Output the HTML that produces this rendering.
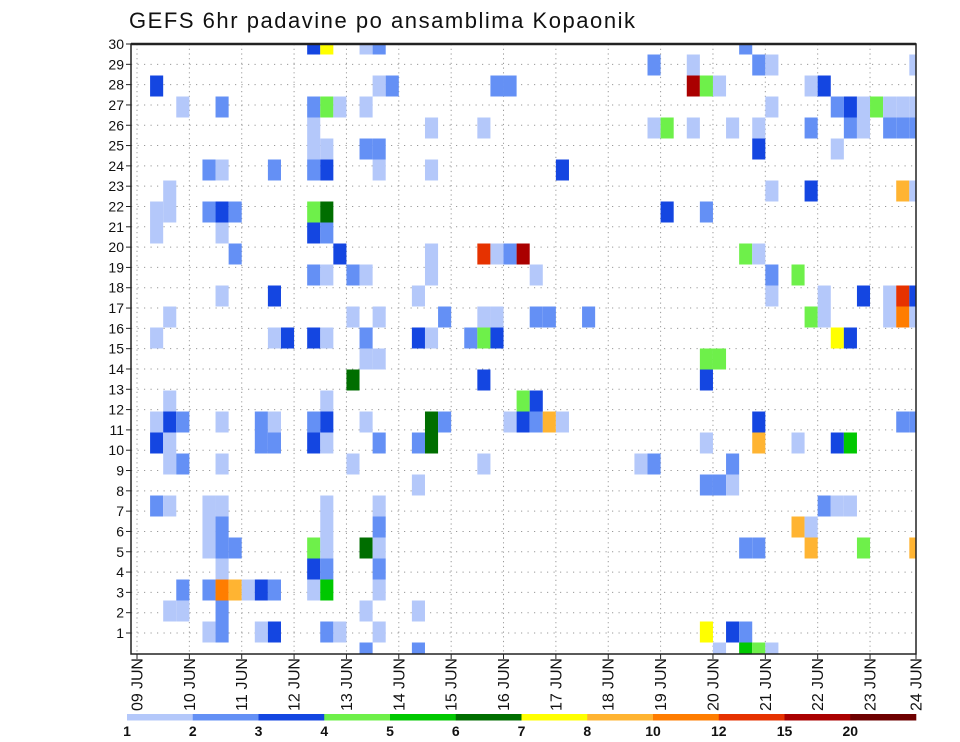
<!DOCTYPE html>
<html><head><meta charset="utf-8"><title>GEFS 6hr padavine</title>
<style>
html,body{margin:0;padding:0;background:#fff;}
svg{display:block;font-family:"Liberation Sans",sans-serif;}
</style></head>
<body>
<svg id="chart" width="960" height="742" viewBox="0 0 960 742">
  <rect x="0" y="0" width="960" height="742" fill="#fff"/>
  <text x="129" y="28" font-size="22" textLength="506" lengthAdjust="spacing" fill="#111">GEFS 6hr padavine po ansamblima Kopaonik</text>
  <g id="grid"></g>
  <g id="cells"></g>
  <g id="axes"></g>
  <g id="legend"></g>
</svg>
<script>
// ---- data ----
const members = [30,29,28,27,26,25,24,23,22,21,20,19,18,17,16,15,14,13,12,11,10,9,8,7,6,5,4,3,2,1];
const cellSteps = [
 [13,14,17,18,46],
 [39,42,47,48,59],
 [1,18,19,27,28,42,43,44,51,52],
 [3,6,13,14,15,17,48,53,54,55,56,57,58,59],
 [13,22,26,39,40,42,45,47,51,54,55,57,58,59],
 [13,14,17,18,47,53],
 [5,6,10,13,14,18,22,32],
 [2,48,51,58,59],
 [1,2,5,6,7,13,14,40,43],
 [1,6,13,14],
 [7,15,22,26,27,28,29,46,47],
 [13,14,16,17,22,30,48,50],
 [6,10,21,48,52,55,57,58,59],
 [2,16,18,23,26,27,30,31,34,51,52,57,58,59],
 [1,10,11,13,14,17,21,22,25,26,27,53,54],
 [17,18,43,44],
 [16,26,43],
 [2,14,29,30],
 [1,2,3,6,9,10,13,14,17,22,23,28,29,30,31,32,47,58,59],
 [1,2,9,10,13,14,18,21,22,43,47,50,53,54],
 [2,3,6,16,26,38,39,45],
 [21,43,44,45],
 [1,2,5,6,14,18,52,53,54],
 [5,6,14,18,50,51],
 [5,6,7,13,14,17,18,46,47,51,55,59],
 [6,13,14,18],
 [3,5,6,7,8,9,10,13,14,18],
 [2,3,6,17,21],
 [5,6,9,10,14,15,18,43,45,46],
 [17,21,44,46,47,48]
];
const cellValues = [
 [3.5,7.5,1.5,2.5,2.5],
 [2.5,1.5,2.5,1.5,1.5],
 [3.5,1.5,2.5,2.5,2.5,17,4.5,1.5,1.5,3.5],
 [1.5,2.5,2.5,4.5,1.5,1.5,1.5,2.5,3.5,1.5,4.5,1.5,1.5,1.5],
 [1.5,1.5,1.5,1.5,4.5,1.5,1.5,1.5,2.5,2.5,1.5,2.5,2.5,2.5],
 [1.5,1.5,2.5,2.5,3.5,1.5],
 [2.5,1.5,2.5,2.5,3.5,1.5,1.5,3.5],
 [1.5,1.5,3.5,9,1.5],
 [1.5,1.5,2.5,3.5,2.5,4.5,6.5,3.5,2.5],
 [1.5,1.5,3.5,2.5],
 [2.5,3.5,1.5,13,1.5,2.5,17,4.5,1.5],
 [2.5,1.5,2.5,1.5,1.5,1.5,2.5,4.5],
 [1.5,3.5,1.5,1.5,1.5,3.5,1.5,13,3.5],
 [1.5,1.5,1.5,2.5,1.5,1.5,2.5,2.5,2.5,4.5,1.5,1.5,11,1.5],
 [1.5,1.5,3.5,3.5,1.5,2.5,3.5,1.5,2.5,4.5,3.5,7.5,3.5],
 [1.5,1.5,4.5,4.5],
 [6.5,3.5,3.5],
 [1.5,1.5,4.5,3.5],
 [1.5,3.5,2.5,1.5,2.5,1.5,2.5,3.5,1.5,6.5,2.5,1.5,3.5,2.5,9,1.5,3.5,2.5,2.5],
 [3.5,1.5,2.5,2.5,3.5,1.5,2.5,2.5,6.5,1.5,9,1.5,3.5,5.5],
 [1.5,2.5,1.5,1.5,1.5,1.5,2.5,2.5],
 [1.5,2.5,2.5,1.5],
 [2.5,1.5,1.5,1.5,1.5,1.5,2.5,1.5,1.5],
 [1.5,2.5,1.5,2.5,9,1.5],
 [1.5,2.5,2.5,4.5,1.5,6.5,1.5,2.5,2.5,9,4.5,9],
 [1.5,3.5,2.5,2.5],
 [2.5,2.5,11,9,1.5,3.5,2.5,1.5,5.5,1.5],
 [1.5,1.5,2.5,1.5,1.5],
 [1.5,2.5,1.5,3.5,2.5,1.5,1.5,7.5,3.5,2.5],
 [2.5,2.5,1.5,5.5,4.5,1.5]
];
const dayLabels = ["09 JUN","10 JUN","11 JUN","12 JUN","13 JUN","14 JUN","15 JUN","16 JUN","17 JUN","18 JUN","19 JUN","20 JUN","21 JUN","22 JUN","23 JUN","24 JUN"];
const memberTicks = [1,2,3,4,5,6,7,8,9,10,11,12,13,14,15,16,17,18,19,20,21,22,23,24,25,26,27,28,29,30];
const levelBounds = [1,2,3,4,5,6,7,8,10,12,15,20];
const levelColors = ["#b4c8fa","#6490f5","#1446e1","#6ef04a","#00c800","#006e00","#ffff00","#ffb432","#ff7d00","#e63200","#aa0000","#6e0000"];

// ---- geometry ----
const NS = "http://www.w3.org/2000/svg";
const PL = 131, PR = 916, PT = 44, PB = 654;
const X0 = 137, STEP_W = 13.09, DAY_W = STEP_W * 4;
const CELL_H = 21;
function xScale(step){ return X0 + step * STEP_W; }
function yScale(member){ return PT + (30 - member) * CELL_H; }
function yTick(member){ return 633 - (member - 1) * 20.31; }
function colorFor(v){
  let idx = 0;
  for (let i = 0; i < levelBounds.length; i++) { if (v >= levelBounds[i]) idx = i; }
  return levelColors[idx];
}
function mk(tag, attrs){
  const e = document.createElementNS(NS, tag);
  for (const k in attrs) e.setAttribute(k, attrs[k]);
  return e;
}
const gGrid = document.getElementById('grid');
const gCells = document.getElementById('cells');
const gAxes = document.getElementById('axes');
const gLeg = document.getElementById('legend');

// grid
memberTicks.forEach(m => {
  const y = yTick(m);
  const l = mk('line', {x1: PL, x2: PR, y1: y, y2: y, stroke: '#999', 'stroke-width': 1, 'stroke-dasharray': '1.2,5.3'});
  
  
  gGrid.appendChild(l);
});
for (let d = 0; d < 15; d++) {
  const x = X0 + d * DAY_W;
  const l = mk('line', {x1: x, x2: x, y1: PT, y2: PB, stroke: '#999', 'stroke-width': 1, 'stroke-dasharray': '1.2,3.5'});
  
  
  gGrid.appendChild(l);
}

// cells
const clip = mk('clipPath', {id: 'plotclip'});
clip.appendChild(mk('rect', {x: PL, y: PT, width: PR - PL, height: PB - PT}));
document.getElementById('chart').appendChild(clip);
gCells.setAttribute('clip-path', 'url(#plotclip)');
members.forEach((m, i) => {
  cellSteps[i].forEach((s, j) => {
    const v = cellValues[i][j];
    const r = mk('rect', {x: xScale(s), y: yScale(m) - CELL_H / 2, width: STEP_W, height: CELL_H, fill: colorFor(v)});
    
    
    gCells.appendChild(r);
  });
});

// axes frame
const frame = mk('rect', {x: PL, y: PT, width: PR - PL, height: PB - PT, fill: 'none', stroke: '#222', 'stroke-width': 1.5});


gAxes.appendChild(frame);
const topLine = mk('line', {x1: PL, x2: PR, y1: PT, y2: PT, stroke: '#222', 'stroke-width': 2.5});


gAxes.appendChild(topLine);

// y ticks
memberTicks.forEach(m => {
  const y = yTick(m);
  const t = mk('line', {x1: PL - 5, x2: PL, y1: y, y2: y, stroke: '#222', 'stroke-width': 1});
  
  
  gAxes.appendChild(t);
  const tx = mk('text', {x: PL - 7, y: y + 5, 'font-size': 14, 'text-anchor': 'end', fill: '#111'});
  tx.textContent = String(m);
  
  
  gAxes.appendChild(tx);
});

// x ticks & labels
dayLabels.forEach((lab, d) => {
  const x = d < 15 ? X0 + d * DAY_W : PR;
  const t = mk('line', {x1: x, x2: x, y1: PB, y2: PB + 5, stroke: '#222', 'stroke-width': 1});
  
  
  gAxes.appendChild(t);
  const tx = mk('text', {transform: 'translate(' + (x + 5.5) + ',658) rotate(-90)', 'font-size': 16, 'text-anchor': 'end', fill: '#111', textLength: 53, lengthAdjust: 'spacing'});
  tx.textContent = lab;
  
  
  gAxes.appendChild(tx);
});

// legend
const LX = 127, LW = (916 - 127) / levelColors.length;
levelColors.forEach((c, i) => {
  const r = mk('rect', {x: LX + i * LW, y: 714, width: LW + 0.3, height: 6.5, fill: c});
  
  
  gLeg.appendChild(r);
});
levelBounds.forEach((b, i) => {
  const tx = mk('text', {x: LX + i * LW, y: 736, 'font-size': 14, 'font-weight': 'bold', 'text-anchor': 'middle', fill: '#111'});
  tx.textContent = String(b);
  
  
  gLeg.appendChild(tx);
});
</script>
</body></html>
